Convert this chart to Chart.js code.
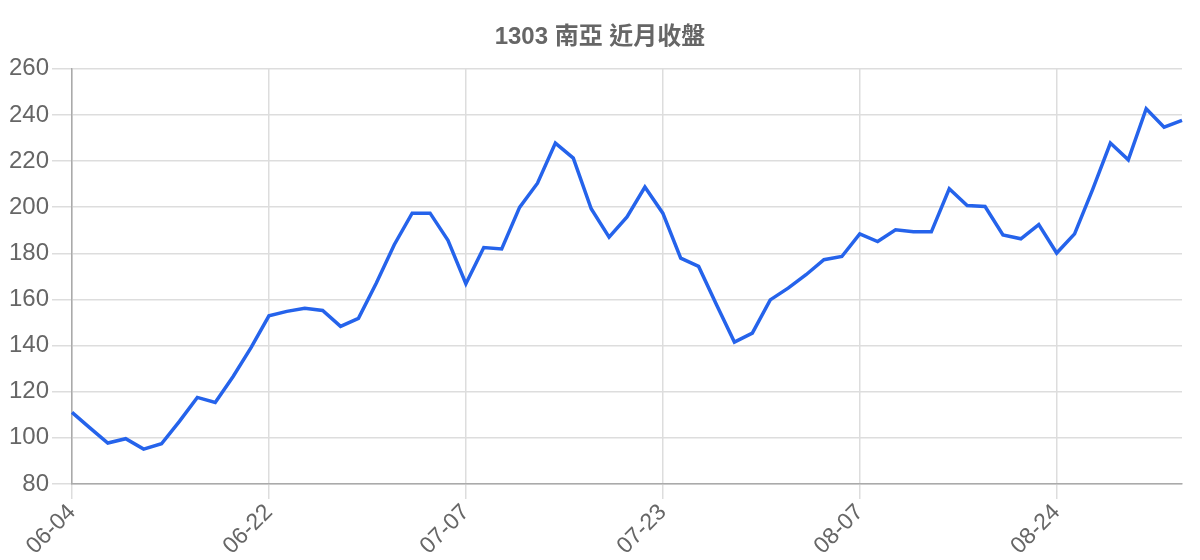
<!DOCTYPE html>
<html>
<head>
<meta charset="utf-8">
<script src="https://cdn.jsdelivr.net/npm/chart.js@4/dist/chart.umd.min.js"></script>
<style>
  html, body { margin: 0; padding: 0; background: #fff; }
  #wrap { width: 1200px; height: 560px; }
</style>
</head>
<body>
<div id="wrap"><canvas id="myChart"></canvas></div>
<script>
const chartTitle = '1303 南亞 近月收盤';

const dates = [
    '06-04', '06-05', '06-06', '06-07', '06-08', '06-11', '06-12', '06-13', '06-14', '06-15',
    '06-20', '06-22', '06-25', '06-26', '06-27', '06-28', '06-29', '07-02', '07-03', '07-04',
    '07-05', '07-06', '07-07', '07-09', '07-10', '07-11', '07-12', '07-13', '07-16', '07-17',
    '07-18', '07-19', '07-20', '07-23', '07-24', '07-25', '07-26', '07-27', '07-30', '07-31',
    '08-01', '08-02', '08-03', '08-06', '08-07', '08-08', '08-09', '08-10', '08-13', '08-14',
    '08-15', '08-16', '08-17', '08-20', '08-21', '08-24', '08-27', '08-28', '08-29', '08-30',
    '08-31', '09-03', '09-04'
];

const closes = [
    111.0, 104.3, 97.7, 99.6, 95.1, 97.4, 107.1, 117.5, 115.3, 126.6,
    139.1, 152.9, 154.8, 156.2, 155.2, 148.3, 151.8, 167.1, 183.7, 197.4,
    197.4, 185.6, 166.8, 182.5, 181.9, 199.9, 210.4, 227.8, 221.3, 199.3,
    187.0, 195.8, 208.7, 197.4, 177.9, 174.3, 157.7, 141.5, 145.4, 159.8,
    164.9, 170.7, 177.2, 178.6, 188.4, 185.1, 190.2, 189.3, 189.3, 208.0,
    200.7, 200.3, 188.0, 186.3, 192.4, 180.1, 188.4, 207.5, 227.8, 220.5,
    242.7, 234.7, 237.6
];

const labelStep = 11;

Chart.defaults.font.family = "'Liberation Sans', Arial, 'Noto Sans CJK TC', sans-serif";
Chart.defaults.color = '#666';

const ctx = document.getElementById('myChart').getContext('2d');
const myChart = new Chart(ctx, {
    type: 'line',
    data: {
        labels: dates,
        datasets: [{
            label: '收盤',
            data: closes,
            borderColor: '#2563eb',
            backgroundColor: '#2563eb',
            borderWidth: 3.5,
            pointRadius: 0,
            tension: 0,
            fill: false
        }]
    },
    options: {
        responsive: true,
        maintainAspectRatio: false,
        animation: false,
        layout: { padding: 0 },
        plugins: {
            legend: { display: false },
            tooltip: { enabled: false },
            title: {
                display: true,
                text: chartTitle,
                color: '#666',
                font: { size: 24, weight: 'bold' },
                padding: { top: 23, bottom: 17 }
            }
        },
        scales: {
            x: {
                // keep some room on the right without shifting the title
                afterFit: function (scale) { scale.paddingRight = 18; },
                grid: { color: '#ddd', lineWidth: 1.5, tickLength: 15 },
                border: { color: '#aaa', width: 1.5 },
                ticks: {
                    autoSkip: false,
                    maxRotation: 45,
                    minRotation: 45,
                    padding: 0,
                    font: { size: 23 },
                    callback: function (value, index) {
                        return index % labelStep === 0 ? this.getLabelForValue(value) : null;
                    }
                }
            },
            y: {
                min: 80,
                max: 260,
                afterFit: function (scale) { scale.width = 72; },
                grid: { color: '#ddd', lineWidth: 1.5, tickLength: 20 },
                border: { color: '#aaa', width: 1.5 },
                ticks: { stepSize: 20, padding: 3, font: { size: 24 } }
            }
        }
    }
});
</script>
</body>
</html>
